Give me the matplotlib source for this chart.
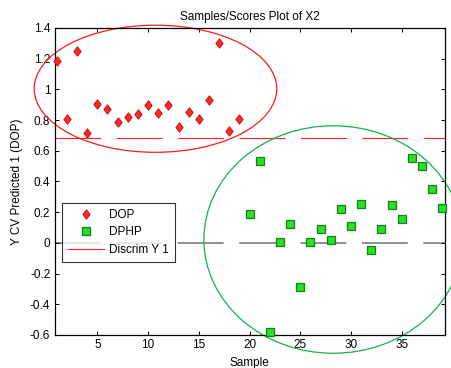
import matplotlib
matplotlib.use("Agg")
import matplotlib.pyplot as plt
import numpy as np
from matplotlib.patches import Ellipse
from matplotlib.path import Path
from matplotlib.lines import Line2D

plt.rcParams["font.family"] = ["Liberation Sans", "DejaVu Sans"]
plt.rcParams["font.size"] = 8.5
plt.rcParams["lines.scale_dashes"] = False

# ── data ──────────────────────────────────────────────────────────────────────
dop_sample = list(range(1, 20))
dop_score = [1.185, 0.805, 1.252, 0.714, 0.903, 0.872, 0.786, 0.818, 0.838,
             0.896, 0.844, 0.896, 0.757, 0.851, 0.805, 0.931, 1.300, 0.731,
             0.805]

dphp_sample = list(range(20, 40))
dphp_score = [0.188, 0.536, -0.583, 0.008, 0.123, -0.285, 0.006, 0.093,
              0.019, 0.223, 0.112, 0.253, -0.046, 0.088, 0.247, 0.154,
              0.551, 0.501, 0.353, 0.230]

threshold = 0.681
discrim = 0.0

# confidence ellipses: (center x, center y, width, height)
dop_ellipse = (10.73, 1.004, 23.9, 0.828)
dphp_ellipse = (28.25, 0.022, 25.5, 1.482)

x_ticks = [5, 10, 15, 20, 25, 30, 35]
y_ticks = [-0.6, -0.4, -0.2, 0, 0.2, 0.4, 0.6, 0.8, 1, 1.2, 1.4]
y_tick_labels = ["-0.6", "-0.4", "-0.2", "0", "0.2", "0.4", "0.6", "0.8",
                 "1", "1.2", "1.4"]

RED_FILL, RED_EDGE = "#ff2a2a", "#c80000"
GRN_FILL, GRN_EDGE = "#2ddc2d", "#0a8a0a"

# MATLAB-like diamond (taller than wide)
diamond = Path([(0, 1), (0.78, 0), (0, -1), (-0.78, 0), (0, 1)],
               [Path.MOVETO, Path.LINETO, Path.LINETO, Path.LINETO,
                Path.CLOSEPOLY])

fig = plt.figure(figsize=(4.52, 3.68), dpi=100)
fig.patch.set_facecolor("white")
ax = fig.add_axes([0.1206, 0.0897, 0.8644, 0.8343])

ax.set_xlim(0.78, 39.28)
ax.set_ylim(-0.6, 1.4)

dash = (33, 11.2)
ax.axhline(threshold, color="#ff2020", lw=0.8, dashes=dash, zorder=1)
ax.axhline(discrim, color="#7a7a7a", lw=1.2, dashes=dash, zorder=1)

for (cx, cy, w, h), col in [(dop_ellipse, "#ff1a1a"), (dphp_ellipse, "#12b24c")]:
    ax.add_patch(Ellipse((cx, cy), w, h, fill=False, edgecolor=col, lw=0.9,
                         clip_on=False, zorder=2))

ax.plot(dop_sample, dop_score, linestyle="none", marker=diamond,
        markersize=6.8, markerfacecolor=RED_FILL, markeredgecolor=RED_EDGE,
        markeredgewidth=0.6, zorder=3, clip_on=False)
ax.plot(dphp_sample, dphp_score, linestyle="none", marker="s",
        markersize=5.3, markerfacecolor=GRN_FILL, markeredgecolor=GRN_EDGE,
        markeredgewidth=0.9, zorder=3, clip_on=False)

ax.set_xticks(x_ticks)
ax.set_yticks(y_ticks)
ax.set_yticklabels(y_tick_labels)
ax.tick_params(direction="in", length=3, width=0.7, top=True, right=True,
               labelsize=8.5, pad=3)
for sp in ax.spines.values():
    sp.set_linewidth(0.9)

ax.set_title("Samples/Scores Plot of X2", fontsize=8.5, pad=6)
ax.set_xlabel("Sample", fontsize=8.5, labelpad=4)
ax.set_ylabel("Y CV Predicted 1 (DOP)", fontsize=8.5, labelpad=5)

handles = [
    Line2D([], [], linestyle="none", marker=diamond, markersize=6.8,
           markerfacecolor=RED_FILL, markeredgecolor=RED_EDGE,
           markeredgewidth=0.6),
    Line2D([], [], linestyle="none", marker="s", markersize=5.3,
           markerfacecolor=GRN_FILL, markeredgecolor=GRN_EDGE,
           markeredgewidth=0.9),
    Line2D([], [], color="#ff2020", lw=0.8),
]
leg = ax.legend(handles, ["DOP", "DPHP", "Discrim Y 1"], loc="upper left",
                bbox_to_anchor=(0.02, 0.429), fontsize=8.5, frameon=True,
                fancybox=False, edgecolor="black", handlelength=3.0,
                handletextpad=0.45, borderpad=0.5, labelspacing=0.45,
                borderaxespad=0.0)
leg.get_frame().set_linewidth(0.8)
leg.set_zorder(5)

fig.savefig("out.png", dpi=100)
